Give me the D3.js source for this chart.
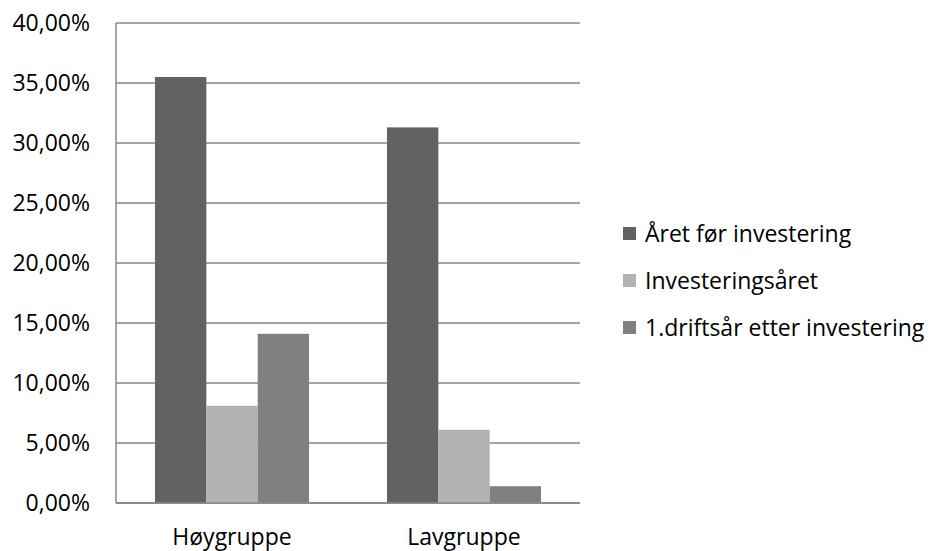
<!DOCTYPE html>
<html><head><meta charset="utf-8">
<script src="https://cdn.jsdelivr.net/npm/d3@7"></script>
<style>body{margin:0;background:#fff}svg{display:block}text{font-family:"Open Sans",sans-serif;fill:#000}</style>
</head><body>
<svg id="c" width="933" height="551"></svg>
<script>
const categories = ["Høygruppe", "Lavgruppe"];
const seriesNames = ["Året før investering", "Investeringsåret", "1.driftsår etter investering"];
const seriesColors = ["#626262", "#b2b2b2", "#808080"];
const aaretFor = [35.5, 31.3];
const investeringsaaret = [8.1, 6.1];
const driftsaar1 = [14.1, 1.4];
const yTicks = [0, 5, 10, 15, 20, 25, 30, 35, 40];

const series = [aaretFor, investeringsaaret, driftsaar1];
const svg = d3.select("#c");
const L = 116, R = 580, T = 23, B = 503;
const FS = 23;
const y = d3.scaleLinear().domain([0, 40]).range([B, T]);
const x0 = d3.scaleBand().domain(categories).range([L, R]).paddingInner(0.336).paddingOuter(0.168);
const x1 = d3.scaleBand().domain(d3.range(seriesNames.length)).range([0, x0.bandwidth()]);
const fmt = v => v.toFixed(2).replace(".", ",") + "%";

// gridlines
svg.append("g").selectAll("line").data(yTicks).join("line")
  .attr("x1", L).attr("x2", R).attr("y1", d => y(d)).attr("y2", d => y(d))
  .attr("stroke", "#868686").attr("stroke-width", 1.5);
// y axis line
svg.append("line").attr("x1", L).attr("x2", L).attr("y1", T).attr("y2", B)
  .attr("stroke", "#868686").attr("stroke-width", 1.5);

// bars
const g = svg.append("g");
series.forEach((vals, si) => {
  g.selectAll(null).data(vals).join("rect")
    .attr("x", (d, i) => x0(categories[i]) + x1(si))
    .attr("width", x1.bandwidth())
    .attr("y", d => y(d))
    .attr("height", d => B - y(d))
    .attr("fill", seriesColors[si]);
});
// redraw baseline over bars
svg.append("line").attr("x1", L).attr("x2", R).attr("y1", B).attr("y2", B)
  .attr("stroke", "#868686").attr("stroke-width", 1.5);

// y labels
svg.append("g").selectAll("text").data(yTicks).join("text")
  .attr("x", 90).attr("y", d => y(d)).attr("dy", "0.35em")
  .attr("text-anchor", "end").attr("font-size", FS).text(fmt);

// x labels
svg.append("g").selectAll("text").data(categories).join("text")
  .attr("x", d => x0(d) + x0.bandwidth() / 2).attr("y", 545)
  .attr("text-anchor", "middle").attr("font-size", FS).text(d => d);

// legend
const lg = svg.append("g");
seriesNames.forEach((n, i) => {
  const cy = 234 + i * 47;
  lg.append("rect").attr("x", 623).attr("y", cy - 7).attr("width", 13).attr("height", 13).attr("fill", seriesColors[i]);
  lg.append("text").attr("x", 645).attr("y", cy).attr("dy", "0.35em").attr("font-size", FS).text(n);
});
</script>
</body></html>
